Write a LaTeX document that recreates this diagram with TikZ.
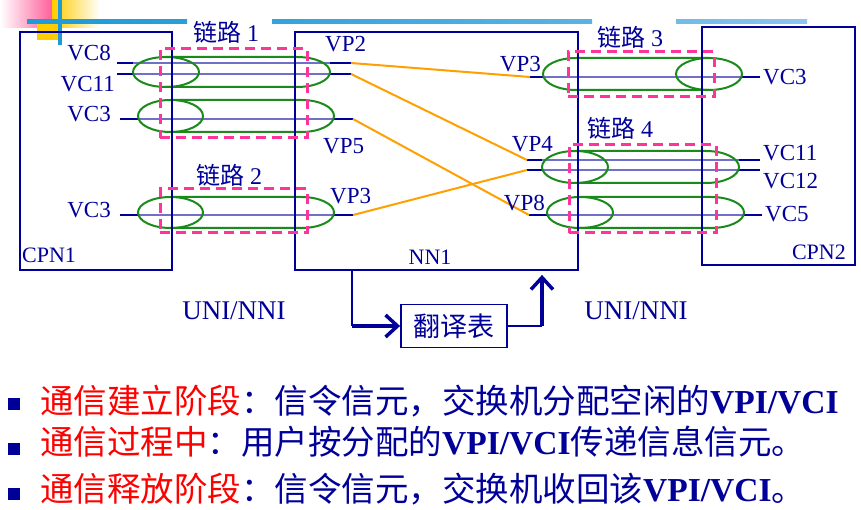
\documentclass[tikz,border=0pt]{standalone}
\usepackage{fontspec}
\setmainfont{Liberation Serif}
\newfontfamily\cjk{Noto Sans CJK SC}
\usetikzlibrary{arrows.meta, positioning, calc}
\definecolor{NetNavy}{HTML}{000099}
\definecolor{NetWire}{HTML}{7070C8}
\definecolor{NetGreen}{HTML}{1A8A1A}
\definecolor{NetPink}{HTML}{FF3399}
\definecolor{NetOrange}{HTML}{FFA000}
\definecolor{NetRed}{HTML}{FF0000}
\definecolor{BarBlueA}{HTML}{1E9BD7}
\definecolor{BarBlueB}{HTML}{8CC6EE}
\definecolor{DecoPink}{HTML}{FF5F9A}
\definecolor{DecoYellow}{HTML}{FFCC00}
\tikzset{
    netbox/.style={
        draw=NetNavy,
        line width=1.8pt,
        minimum height=238pt,
        inner sep=0pt
    },
    tablebox/.style={
        draw=NetNavy,
        line width=1.8pt,
        minimum width=106pt,
        minimum height=43pt,
        text=NetNavy,
        font=\fontsize{27}{27}\selectfont\cjk,
        inner sep=0pt
    },
    lbl/.style={
        text=NetNavy,
        font=\fontsize{23}{23}\selectfont,
        inner sep=0pt
    },
    linklbl/.style={
        text=NetNavy,
        font=\fontsize{24}{24}\selectfont,
        inner sep=0pt
    },
    wire/.style={draw=NetNavy, line width=2.2pt},
    wirein/.style={draw=NetWire, line width=2pt},
    tube/.style={draw=NetGreen, line width=2pt},
    linkbox/.style={
        draw=NetPink,
        line width=3pt,
        dash pattern=on 10pt off 6pt
    },
    cross/.style={draw=NetOrange, line width=2pt},
    thinline/.style={draw=NetNavy, line width=2pt},
    bigarrow/.style={
        -{Straight Barb[length=12pt, width=22pt]},
        line width=3.5pt,
        NetNavy
    },
    bulletbox/.style={
        fill=NetNavy,
        minimum size=12pt,
        inner sep=0pt
    },
    itemtext/.style={
        anchor=base west,
        inner sep=0pt,
        font=\fontsize{33.5}{34}\selectfont
    }
}

\begin{document}
\begin{tikzpicture}[x=1pt, y=-1pt]
    \useasboundingbox (0,0) rectangle (861,510);

    % Title decoration
    \shade[left color=white, right color=DecoPink] (0,0) rectangle (52,28);
    \shade[left color=DecoYellow, right color=white] (52,0) rectangle (100,28);
    \fill[DecoYellow] (37,24) rectangle (62,40);
    \fill[BarBlueA] (58,0) rectangle (62,45);
    \shade[left color=BarBlueA, right color=BarBlueA!90!BarBlueB] (27,20) rectangle (187,24);
    \shade[left color=BarBlueA!80!BarBlueB, right color=BarBlueA!45!BarBlueB] (272,20) rectangle (592,24);
    \shade[left color=BarBlueA!25!BarBlueB, right color=BarBlueB] (676,20) rectangle (807,24);

    % Wire end points
    \coordinate (vc8L) at (117,63);
    \coordinate (vp2a) at (351,63);
    \coordinate (vc11L) at (117,74);
    \coordinate (vp2b) at (351,74);
    \coordinate (vc3aL) at (120,119);
    \coordinate (vp5) at (353,119);
    \coordinate (vc3bL) at (120,215);
    \coordinate (vp3L) at (353,215);
    \coordinate (vp3R) at (530,77);
    \coordinate (vc3cR) at (760,77);
    \coordinate (vp4a) at (527,160);
    \coordinate (vc11R) at (760,160);
    \coordinate (vp4b) at (527,170);
    \coordinate (vc12R) at (760,170);
    \coordinate (vp8) at (529,215);
    \coordinate (vc5R) at (762,215);

    % Wires
    \draw[wire] (vc8L) -- (vp2a);
    \draw[wire] (vc11L) -- (vp2b);
    \draw[wire] (vc3aL) -- (vp5);
    \draw[wire] (vc3bL) -- (vp3L);
    \draw[wire] (vp3R) -- (vc3cR);
    \draw[wire] (vp4a) -- (vc11R);
    \draw[wire] (vp4b) -- (vc12R);
    \draw[wire] (vp8) -- (vc5R);
    \draw[wirein] (133,63) -- (330,63);
    \draw[wirein] (133,74) -- (330,74);
    \draw[wirein] (138,119) -- (334,119);
    \draw[wirein] (138,215) -- (334,215);
    \draw[wirein] (543,77) -- (742,77);
    \draw[wirein] (542,160) -- (739,160);
    \draw[wirein] (542,170) -- (739,170);
    \draw[wirein] (547,215) -- (744,215);

    % Tubes
    \draw[tube] (166,72) ellipse [x radius=33, y radius=15];
    \draw[tube] (166,57) -- (297,57) arc[start angle=-90, end angle=90, x radius=33, y radius=15] -- (166,87);
    \draw[tube] (170.5,116) ellipse [x radius=32.5, y radius=16];
    \draw[tube] (170.5,100) -- (301.5,100) arc[start angle=-90, end angle=90, x radius=32.5, y radius=16] -- (170.5,132);
    \draw[tube] (170.5,212.5) ellipse [x radius=32.5, y radius=15.5];
    \draw[tube] (170.5,197) -- (301.5,197) arc[start angle=-90, end angle=90, x radius=32.5, y radius=15.5] -- (170.5,228);
    \draw[tube] (709,74) ellipse [x radius=33, y radius=16];
    \draw[tube] (709,58) -- (576,58) arc[start angle=-90, end angle=-270, x radius=33, y radius=16] -- (709,90);
    \draw[tube] (575,167) ellipse [x radius=33, y radius=16];
    \draw[tube] (575,151) -- (706,151) arc[start angle=-90, end angle=90, x radius=33, y radius=16] -- (575,183);
    \draw[tube] (580,212.5) ellipse [x radius=33, y radius=15.5];
    \draw[tube] (580,197) -- (711,197) arc[start angle=-90, end angle=90, x radius=33, y radius=15.5] -- (580,228);

    % Switching inside NN1
    \draw[cross] (vp2a) -- (vp3R);
    \draw[cross] (vp2b) -- (vp4a);
    \draw[cross] (vp5) -- (vp8);
    \draw[cross] (vp3L) -- (vp4b);

    % Nodes
    \node[netbox, minimum width=152pt] (cpn1) at (96,151) {};
    \node[netbox, minimum width=283pt] (nn1) at (436.5,151) {};
    \node[netbox, minimum width=153pt] (cpn2) at (778.5,146) {};
    \node[lbl, anchor=west, font=\fontsize{22}{22}\selectfont] (cpn1lbl) at (22,255) {CPN1};
    \node[lbl, font=\fontsize{22}{22}\selectfont] (nn1lbl) at (430,257) {NN1};
    \node[lbl, anchor=east, font=\fontsize{22}{22}\selectfont] (cpn2lbl) at (846,252) {CPN2};

    % Links
    \node[linkbox, minimum width=147pt, minimum height=89pt] (link1) at (233.5,93.5) {};
    \node[linkbox, minimum width=147pt, minimum height=44pt] (link2) at (233.5,211) {};
    \node[linkbox, minimum width=146pt, minimum height=45pt] (link3) at (641,74.5) {};
    \node[linkbox, minimum width=147pt, minimum height=88pt] (link4) at (642.5,189) {};
    \node[linklbl] (lk1) at (226,32) {{\cjk 链路} 1};
    \node[linklbl] (lk2) at (229,175) {{\cjk 链路} 2};
    \node[linklbl] (lk3) at (630,37) {{\cjk 链路} 3};
    \node[linklbl] (lk4) at (620,128) {{\cjk 链路} 4};

    % Channel labels
    \node[lbl, anchor=east] (vc8) at (111,53) {VC8};
    \node[lbl, anchor=east] (vc11) at (115,84) {VC11};
    \node[lbl, anchor=east] (vc3a) at (111,114) {VC3};
    \node[lbl, anchor=east] (vc3b) at (111,210) {VC3};
    \node[lbl, anchor=west] (vp2) at (325,44) {VP2};
    \node[lbl, anchor=west] (vp5lbl) at (323,146) {VP5};
    \node[lbl, anchor=west] (vp3a) at (330,196) {VP3};
    \node[lbl, anchor=east] (vp3b) at (541,64) {VP3};
    \node[lbl, anchor=east] (vp4) at (553,144) {VP4};
    \node[lbl, anchor=east] (vp8lbl) at (545,203) {VP8};
    \node[lbl, anchor=west] (vc3c) at (763,77) {VC3};
    \node[lbl, anchor=west] (vc11b) at (763,153) {VC11};
    \node[lbl, anchor=west] (vc12) at (763,181) {VC12};
    \node[lbl, anchor=west] (vc5) at (765,214) {VC5};

    % Translation table
    \node[tablebox] (trans) at (454,326) {翻译表};
    \coordinate (downL) at (352,326);
    \coordinate (upR) at (542,326);
    \draw[thinline] (downL |- nn1.south) -- (downL);
    \draw[bigarrow] (downL) -- (trans.west);
    \draw[thinline] (trans.east) -- (upR);
    \draw[bigarrow, shorten >=4pt] (upR) -- (upR |- nn1.south);
    \node[lbl, font=\fontsize{27}{27}\selectfont] (uniL) at (234,311) {UNI/NNI};
    \node[lbl, font=\fontsize{27}{27}\selectfont] (uniR) at (636,311) {UNI/NNI};

    % Phases
    \node[bulletbox] (b1) at (14,404) {};
    \node[bulletbox] (b2) at (14,449) {};
    \node[bulletbox] (b3) at (14,494) {};
    \node[itemtext] (t1) at (40,413) {{\cjk\color{NetRed}通信建立阶段}{\cjk\color{NetNavy}：信令信元，交换机分配空闲的}{\color{NetNavy}\bfseries VPI/VCI}};
    \node[itemtext] (t2) at (40,454) {{\cjk\color{NetRed}通信过程中}{\cjk\color{NetNavy}：用户按分配的}{\color{NetNavy}\bfseries VPI/VCI}{\cjk\color{NetNavy}传递信息信元。}};
    \node[itemtext] (t3) at (40,501) {{\cjk\color{NetRed}通信释放阶段}{\cjk\color{NetNavy}：信令信元，交换机收回该}{\color{NetNavy}\bfseries VPI/VCI}{\cjk\color{NetNavy}。}};
\end{tikzpicture}
\end{document}
